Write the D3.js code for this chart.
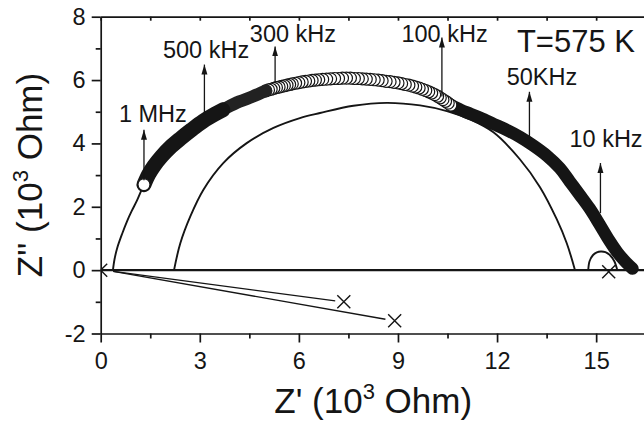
<!DOCTYPE html>
<html>
<head>
<meta charset="utf-8">
<script src="https://cdn.jsdelivr.net/npm/d3@7"></script>
<style>
body { margin: 0; background: #fff; }
svg { display: block; font-family: "Liberation Sans", Arial, Helvetica, sans-serif; }
</style>
</head>
<body>
<script>
const xTicks = [0, 3, 6, 9, 12, 15]
const xMinor = [1.5, 4.5, 7.5, 10.5, 13.5, 16.5]
const yTicks = [-2, 0, 2, 4, 6, 8]
const yMinor = [-1, 1, 3, 5, 7]

// measured Z', Z'' (10^3 Ohm), high frequency end first
const highZr = [1.31, 1.45, 1.62, 1.85, 2.10, 2.40, 2.75, 3.10, 3.45, 3.70]
const highZi = [2.70, 3.02, 3.30, 3.60, 3.87, 4.14, 4.43, 4.70, 4.92, 5.06]
const midZr = [3.40, 3.80, 4.20, 4.60, 5.00]
const midZi = [4.90, 5.12, 5.32, 5.48, 5.66]
const ringZr = [5.00, 5.08, 5.16, 5.24, 5.32, 5.40, 5.48, 5.56, 5.64, 5.72, 5.80, 5.90, 6.00, 6.10, 6.20, 6.30, 6.40, 6.50, 6.60, 6.72,
    6.84, 6.96, 7.08, 7.20, 7.32, 7.44, 7.56, 7.68, 7.80, 7.92, 8.04, 8.16, 8.28, 8.40, 8.52, 8.64, 8.76, 8.88, 9.00, 9.11,
    9.22, 9.33, 9.44, 9.54, 9.64, 9.74, 9.84, 9.93, 10.02, 10.11, 10.20, 10.28, 10.36, 10.44, 10.52, 10.60]
const ringZi = [5.66, 5.69, 5.71, 5.74, 5.76, 5.78, 5.80, 5.82, 5.84, 5.86, 5.88, 5.90, 5.92, 5.94, 5.96, 5.97, 5.99, 6.00, 6.01, 6.02,
    6.03, 6.04, 6.05, 6.05, 6.06, 6.06, 6.06, 6.05, 6.05, 6.04, 6.03, 6.02, 6.01, 6.00, 5.98, 5.96, 5.95, 5.93, 5.91, 5.89,
    5.86, 5.84, 5.81, 5.78, 5.75, 5.71, 5.67, 5.63, 5.59, 5.54, 5.49, 5.44, 5.38, 5.33, 5.27, 5.21]
const lowZr = [10.60, 10.90, 11.20, 11.50, 11.90, 12.30, 12.70, 13.10, 13.50, 13.90, 14.20, 14.50, 14.80, 15.10, 15.40, 15.65, 15.90, 16.10]
const lowZi = [5.21, 5.06, 4.93, 4.80, 4.61, 4.42, 4.20, 3.93, 3.62, 3.22, 2.80, 2.38, 1.95, 1.45, 0.93, 0.55, 0.25, 0.05]

// fitted arcs
const outerFitZr = [0.37, 0.42, 0.50, 0.65, 0.80, 0.94, 1.10, 1.31, 1.50]
const outerFitZi = [0, 0.35, 0.70, 1.15, 1.55, 1.87, 2.20, 2.70, 3.05]
const innerFitZr = [2.22, 2.41, 2.71, 3.11, 3.71, 4.42, 5.23, 6.03, 6.64, 7.65, 8.66, 9.67, 10.48, 11.20, 11.89, 12.69, 13.30, 13.81, 14.11, 14.36]
const innerFitZi = [0, 0.85, 1.69, 2.54, 3.38, 4.01, 4.49, 4.80, 4.96, 5.19, 5.28, 5.20, 5.02, 4.75, 4.35, 3.50, 2.62, 1.60, 0.85, 0]
const smallArcZr = [14.76, 14.80, 14.90, 15.02, 15.14, 15.28, 15.42, 15.55, 15.64]
const smallArcZi = [0, 0.28, 0.47, 0.56, 0.59, 0.57, 0.47, 0.28, 0]

// cross markers and lines to them
const crossZr = [0, 7.36, 8.90, 15.38]
const crossZi = [0, -1.00, -1.60, -0.05]
const lineStart = [0.38, -0.04]
const lineEndZr = [7.10, 8.62]
const lineEndZi = [-0.97, -1.55]

// frequency annotations
const freqLabels = ['1 MHz', '500 kHz', '300 kHz', '100 kHz', '50KHz', '10 kHz']
const arrowZr = [1.31, 3.14, 5.28, 10.33, 12.98, 15.13]
const arrowFrom = [2.84, 4.91, 5.92, 5.48, 4.21, 1.80]
const arrowTo = [4.43, 6.49, 7.06, 7.34, 5.63, 3.38]
const labelZr = [1.58, 3.19, 5.82, 10.41, 13.36, 15.30]
const labelZi = [4.69, 6.71, 7.21, 7.21, 5.85, 3.89]
const tempLabel = 'T=575 K'
const tempPos = [12.60, 6.87]

const w = 644
const h = 422
const padLeft = 100.7, padRight = 645.7, padTop = 16.7, padBottom = 333.5
const ink = '#151515'

const pts = (xs, ys) => xs.map((x, i) => [x, ys[i]])

const svg = d3.select('body')
    .append('svg')
    .attr('width', w)
    .attr('height', h)

const xScale = d3.scaleLinear().domain([0, 16.5]).range([padLeft, padRight])
const yScale = d3.scaleLinear().domain([-2, 8]).range([padBottom, padTop])

const defs = svg.append('defs')
defs.append('clipPath')
    .attr('id', 'plot')
    .append('rect')
    .attr('x', padLeft).attr('y', padTop)
    .attr('width', padRight - padLeft).attr('height', padBottom - padTop)

defs.append('marker')
    .attr('id', 'head')
    .attr('viewBox', '0 -4 10 8')
    .attr('refX', 10).attr('refY', 0)
    .attr('markerUnits', 'userSpaceOnUse')
    .attr('markerWidth', 10).attr('markerHeight', 8)
    .attr('orient', 'auto')
    .append('path')
    .attr('d', 'M0,-3L10,0L0,3Z')
    .attr('fill', ink)

const line = d3.line().x(d => xScale(d[0])).y(d => yScale(d[1]))
const smooth = d3.line().x(d => xScale(d[0])).y(d => yScale(d[1])).curve(d3.curveCatmullRom)

const plot = svg.append('g').attr('clip-path', 'url(#plot)')

// zero line
plot.append('path')
    .attr('d', line([[0, 0], [16.5, 0]]))
    .attr('stroke', ink).attr('stroke-width', 2.2).attr('fill', 'none')

// lines to crosses
lineEndZr.forEach((x, i) => {
    plot.append('path')
        .attr('d', line([lineStart, [x, lineEndZi[i]]]))
        .attr('stroke', ink).attr('stroke-width', 1.4).attr('fill', 'none')
})

const fits = [pts(outerFitZr, outerFitZi), pts(innerFitZr, innerFitZi), pts(smallArcZr, smallArcZi)]
plot.selectAll('.fit')
    .data(fits)
    .enter()
    .append('path')
    .attr('class', 'fit')
    .attr('d', d => smooth(d))
    .attr('stroke', ink).attr('stroke-width', 1.9).attr('fill', 'none')

// crosses
plot.selectAll('.cross')
    .data(pts(crossZr, crossZi))
    .enter()
    .append('path')
    .attr('class', 'cross')
    .attr('d', d => {
        const cx = xScale(d[0]), cy = yScale(d[1]), s = 6.5
        return `M${cx - s},${cy - s}L${cx + s},${cy + s}M${cx - s},${cy + s}L${cx + s},${cy - s}`
    })
    .attr('stroke', ink).attr('stroke-width', 1.4).attr('fill', 'none')

// low frequency band (dense circles)
plot.append('path')
    .attr('d', smooth(pts(lowZr, lowZi)))
    .attr('stroke', ink).attr('stroke-width', 12.5).attr('stroke-linecap', 'round')
    .attr('stroke-linejoin', 'round').attr('fill', 'none')

// open circles, drawn from low to high frequency
plot.selectAll('.pt')
    .data(pts(ringZr, ringZi).reverse())
    .enter()
    .append('circle')
    .attr('class', 'pt')
    .attr('cx', d => xScale(d[0]))
    .attr('cy', d => yScale(d[1]))
    .attr('r', 6)
    .attr('fill', '#fff')
    .attr('stroke', ink).attr('stroke-width', 1.2)

plot.append('path')
    .attr('d', smooth(pts(midZr, midZi)))
    .attr('stroke', '#222').attr('stroke-width', 12.5).attr('stroke-linecap', 'round')
    .attr('fill', 'none')

plot.append('path')
    .attr('d', smooth(pts(highZr, highZi)))
    .attr('stroke', ink).attr('stroke-width', 15).attr('stroke-linecap', 'round')
    .attr('stroke-linejoin', 'round').attr('fill', 'none')

plot.append('circle')
    .attr('cx', xScale(highZr[0]))
    .attr('cy', yScale(highZi[0]))
    .attr('r', 6)
    .attr('fill', '#fff')
    .attr('stroke', ink).attr('stroke-width', 1.2)

// axes
const styleAxis = g => {
    g.selectAll('path').attr('stroke', ink).attr('stroke-width', 1.7)
    g.selectAll('line').attr('stroke', ink).attr('stroke-width', 1.7)
    g.selectAll('text').attr('fill', ink).attr('font-size', '23.5px')
        .attr('font-family', '"Liberation Sans", Arial, sans-serif')
}
const plain = d => String(d)

svg.append('g')
    .attr('transform', 'translate(0,' + padBottom + ')')
    .call(d3.axisBottom(xScale).tickValues(xMinor).tickSize(5).tickFormat(''))
    .call(g => g.select('.domain').remove())
    .call(styleAxis)

svg.append('g')
    .attr('transform', 'translate(0,' + padBottom + ')')
    .call(d3.axisBottom(xScale).tickValues(xTicks).tickSize(9).tickSizeOuter(0).tickPadding(10).tickFormat(plain))
    .call(styleAxis)

svg.append('g')
    .attr('transform', 'translate(0,' + padTop + ')')
    .call(d3.axisBottom(xScale).tickValues(xTicks.concat(xMinor)).tickSize(4).tickSizeOuter(0).tickFormat(''))
    .call(styleAxis)

svg.append('g')
    .attr('transform', 'translate(' + padLeft + ',0)')
    .call(d3.axisLeft(yScale).tickValues(yMinor).tickSize(5).tickFormat(''))
    .call(g => g.select('.domain').remove())
    .call(styleAxis)

svg.append('g')
    .attr('transform', 'translate(' + padLeft + ',0)')
    .call(d3.axisLeft(yScale).tickValues(yTicks).tickSize(9).tickSizeOuter(0).tickPadding(6).tickFormat(plain))
    .call(styleAxis)

// arrows and labels
arrowZr.forEach((x, i) => {
    svg.append('line')
        .attr('x1', xScale(x)).attr('x2', xScale(x))
        .attr('y1', yScale(arrowFrom[i])).attr('y2', yScale(arrowTo[i]))
        .attr('stroke', ink).attr('stroke-width', 1.3)
        .attr('marker-end', 'url(#head)')
    svg.append('text')
        .attr('x', xScale(labelZr[i]))
        .attr('y', yScale(labelZi[i]))
        .attr('text-anchor', 'middle')
        .attr('font-size', '23.5px')
        .attr('fill', ink)
        .text(freqLabels[i])
})

svg.append('text')
    .attr('x', xScale(tempPos[0]))
    .attr('y', yScale(tempPos[1]))
    .attr('font-size', '31px')
    .attr('fill', ink)
    .text(tempLabel)

// axis titles
const xTitle = svg.append('text')
    .attr('x', (padLeft + padRight) / 2)
    .attr('y', 413)
    .attr('text-anchor', 'middle')
    .attr('font-size', '35px')
    .attr('fill', ink)
xTitle.append('tspan').text("Z' (10")
xTitle.append('tspan').attr('font-size', '22px').attr('dy', -14).text('3')
xTitle.append('tspan').attr('dy', 14).text(' Ohm)')

const yTitle = svg.append('text')
    .attr('transform', 'translate(42,' + ((padTop + padBottom) / 2) + ') rotate(-90)')
    .attr('text-anchor', 'middle')
    .attr('font-size', '35px')
    .attr('fill', ink)
yTitle.append('tspan').text("Z'' (10")
yTitle.append('tspan').attr('font-size', '22px').attr('dy', -14).text('3')
yTitle.append('tspan').attr('dy', 14).text(' Ohm)')
</script>
</body>
</html>
